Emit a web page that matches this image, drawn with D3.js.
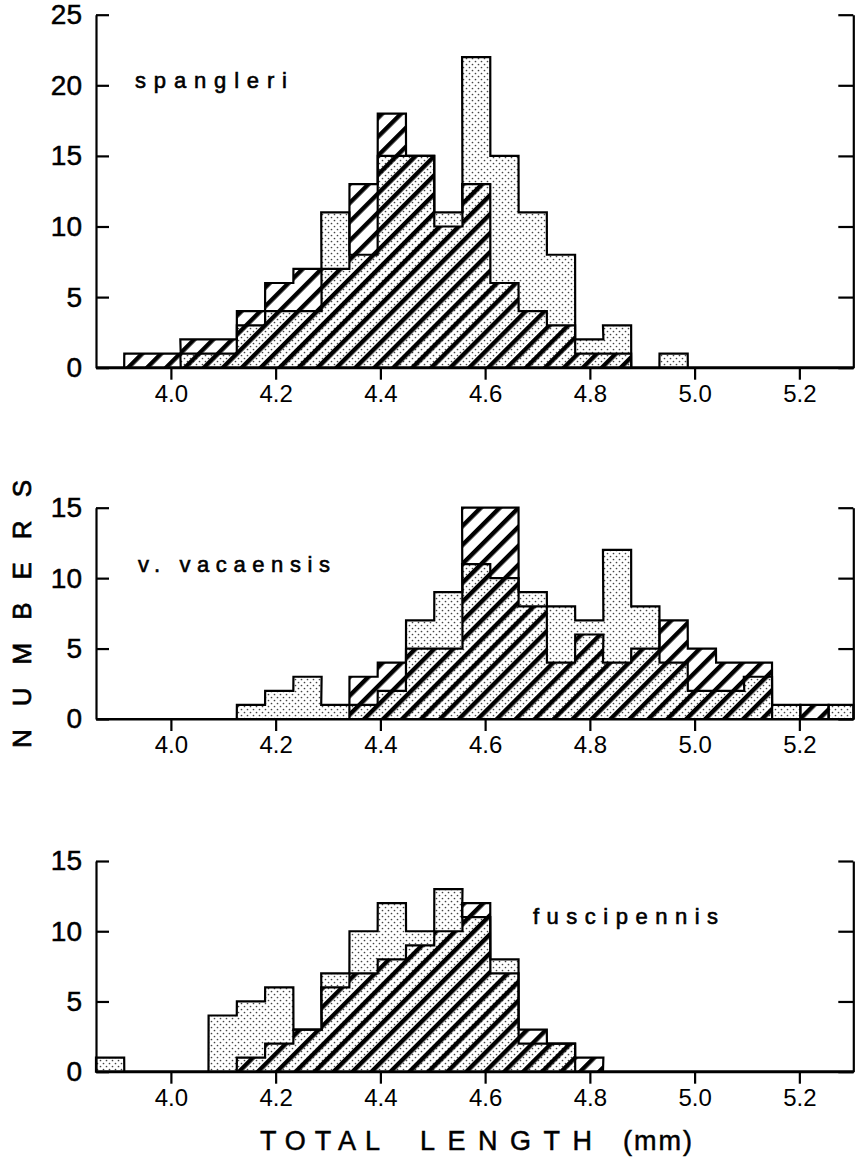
<!DOCTYPE html>
<html><head><meta charset="utf-8">
<script src="https://cdn.jsdelivr.net/npm/d3@7"></script>
<style>body{margin:0;background:#fff}svg{display:block}</style>
</head><body>
<svg id="chart" width="855" height="1159"></svg>
<script>
// ---------- DATA ----------
// lower edge of each histogram bin (mm)
const binEdges = [3.857, 3.911, 3.965, 4.018, 4.072, 4.126, 4.180, 4.234, 4.287, 4.341,
                  4.395, 4.449, 4.503, 4.556, 4.610, 4.664, 4.718, 4.772, 4.825, 4.879,
                  4.933, 4.987, 5.041, 5.094, 5.148, 5.202, 5.256];
const binWidth = 0.0538;
const xTicks = [4.0, 4.2, 4.4, 4.6, 4.8, 5.0, 5.2];
const panelNames = ["spangleri", "v. vacaensis", "fuscipennis"];
const yMaxes = [25, 15, 15];
const yTicksP1 = [0, 5, 10, 15, 20, 25];
const yTicksP23 = [0, 5, 10, 15];

const spangleriStippled = [0,0,0,1,1,3,4,4,11,8,15,15,11,22,15,11,8,2,3,0,1,0,0,0,0,0,0];
const spangleriHatched  = [0,1,1,2,2,4,6,7,7,13,18,15,10,13,6,4,3,1,1,0,0,0,0,0,0,0,0];
const vacaensisStippled = [0,0,0,0,0,1,2,3,1,1,2,7,9,11,10,9,8,7,12,8,4,2,2,3,1,0,1];
const vacaensisHatched  = [0,0,0,0,0,0,0,0,0,3,4,5,5,15,15,8,4,6,4,5,7,5,4,4,0,1,0];
const fuscipennisStippled = [1,0,0,0,4,5,6,3,7,10,12,10,13,11,8,2,2,0,0,0,0,0,0,0,0,0,0];
const fuscipennisHatched  = [0,0,0,0,0,1,2,3,6,7,8,9,10,12,7,3,2,1,0,0,0,0,0,0,0,0,0];

// ---------- LAYOUT ----------
const svg = d3.select("#chart");
const FONT = "'Liberation Sans', Arial, sans-serif";
const defs = svg.append("defs");
const st = defs.append("pattern").attr("id", "stipple").attr("patternUnits", "userSpaceOnUse")
  .attr("width", 6).attr("height", 6);
st.append("rect").attr("width", 6).attr("height", 6).attr("fill", "#fff");
st.append("circle").attr("cx", 1.5).attr("cy", 1.5).attr("r", 0.85).attr("fill", "#444");
st.append("circle").attr("cx", 4.5).attr("cy", 4.5).attr("r", 0.85).attr("fill", "#444");
const ht = defs.append("pattern").attr("id", "hatch").attr("patternUnits", "userSpaceOnUse")
  .attr("width", 13.4).attr("height", 13.4).attr("patternTransform", "rotate(45)");
ht.append("rect").attr("x", 0).attr("y", 0).attr("width", 4.4).attr("height", 13.4).attr("fill", "#000");

const x = d3.scaleLinear().domain([3.857, 5.303]).range([96, 853.3]).clamp(true);

const panels = [
  {name: panelNames[0], stip: spangleriStippled, hatch: spangleriHatched, yMax: yMaxes[0], ticks: yTicksP1,
   y0: 367.7, yTop: 14.7, label: {x: 135, y: 88, len: 152}},
  {name: panelNames[1], stip: vacaensisStippled, hatch: vacaensisHatched, yMax: yMaxes[1], ticks: yTicksP23,
   y0: 719, yTop: 507.7, label: {x: 138, y: 572, len: 192}},
  {name: panelNames[2], stip: fuscipennisStippled, hatch: fuscipennisHatched, yMax: yMaxes[2], ticks: yTicksP23,
   y0: 1071.7, yTop: 861, label: {x: 533, y: 924, len: 185}}
];

function histPath(values, y) {
  const pts = [[x(binEdges[0]), y(0)]];
  values.forEach((v, i) => {
    pts.push([x(binEdges[i]), y(v)], [x(binEdges[i] + binWidth), y(v)]);
  });
  pts.push([x(binEdges[binEdges.length - 1] + binWidth), y(0)]);
  return d3.line()(pts) + "Z";
}

function thicken(sel, w) {
  sel.attr("stroke", "#000").attr("stroke-width", w).attr("paint-order", "stroke");
}

panels.forEach(p => {
  const y = d3.scaleLinear().domain([0, p.yMax]).range([p.y0, p.yTop]);
  const g = svg.append("g");
  g.append("path").attr("d", histPath(p.stip, y)).attr("fill", "url(#stipple)");
  g.append("path").attr("d", histPath(p.hatch, y)).attr("fill", "url(#hatch)");
  g.append("path").attr("d", histPath(p.stip, y)).attr("fill", "none")
    .attr("stroke", "#000").attr("stroke-width", 2.2).attr("stroke-linejoin", "miter");
  g.append("path").attr("d", histPath(p.hatch, y)).attr("fill", "none")
    .attr("stroke", "#000").attr("stroke-width", 2.2).attr("stroke-linejoin", "miter");

  // x axis
  const xa = g.append("g").attr("transform", `translate(0,${p.y0})`)
    .call(d3.axisBottom(x).tickValues(xTicks).tickSize(12).tickSizeOuter(0).tickPadding(6)
      .tickFormat(d3.format(".1f")));
  // left axis
  const ya = g.append("g").attr("transform", `translate(${x.range()[0]},0)`)
    .call(d3.axisLeft(y).tickValues(p.ticks).tickSize(-13).tickSizeOuter(0).tickPadding(14)
      .tickFormat(d3.format("d")));
  // right axis
  const ra = g.append("g").attr("transform", `translate(${x.range()[1]},0)`)
    .call(d3.axisRight(y).tickValues(p.ticks).tickSize(-15).tickSizeOuter(0).tickFormat(""));
  [xa, ya, ra].forEach(a => {
    a.selectAll("path.domain").attr("stroke", "#000").attr("stroke-width", 2.2);
    a.selectAll(".tick line").attr("stroke", "#000").attr("stroke-width", 2.2);
  });
  xa.selectAll(".tick text").attr("font-family", FONT).attr("font-size", 24).attr("fill", "#000")
    .attr("dy", null).attr("y", 34).attr("dominant-baseline", "alphabetic");
  ya.selectAll(".tick text").attr("font-family", FONT).attr("font-size", 28).attr("fill", "#000")
    .call(thicken, 0.5);

  g.append("text").attr("x", p.label.x).attr("y", p.label.y).text(p.name)
    .attr("font-family", FONT).attr("font-size", 22).attr("fill", "#000")
    .attr("textLength", p.label.len).attr("lengthAdjust", "spacing")
    .call(thicken, 0.6);
});

// axis titles
svg.append("text").attr("transform", "translate(31,614) rotate(-90)")
  .attr("text-anchor", "middle").text("NUMBERS")
  .attr("font-family", FONT).attr("font-size", 26).attr("fill", "#000")
  .attr("textLength", 268).attr("lengthAdjust", "spacing")
  .call(thicken, 0.7);
const titleParts = [["TOTAL", 260, 120], ["LENGTH", 420, 172], ["(mm)", 623, 69]];
titleParts.forEach(([t, px, len]) => {
  svg.append("text").attr("x", px).attr("y", 1150).text(t)
    .attr("font-family", FONT).attr("font-size", 27).attr("fill", "#000")
    .attr("textLength", len).attr("lengthAdjust", "spacing")
    .call(thicken, 0.5);
});
</script>
</body></html>
